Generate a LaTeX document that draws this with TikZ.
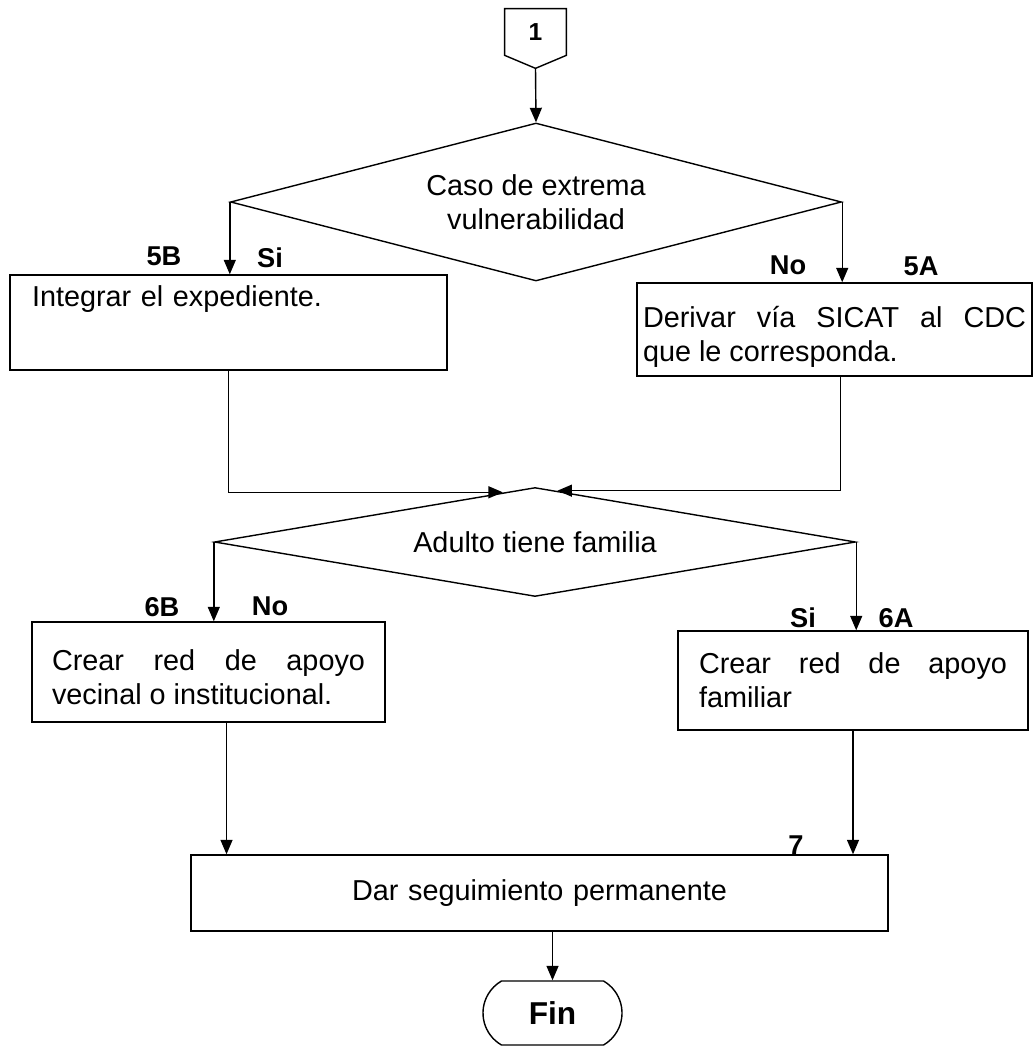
\documentclass[tikz,border=0pt]{standalone}
\usepackage{fontspec}
\setmainfont{Liberation Sans}
\usetikzlibrary{arrows.meta,calc,shapes.geometric,shapes.misc}
\newdimen\pxu \pxu=0.02cm
\begin{document}
\begin{tikzpicture}[x=0.02cm,y=-0.02cm,
  every node/.style={font=\fontsize{16.4}{19.3}\selectfont},
  wire/.style={draw,line width=0.8pt},
  flow/.style={draw,line width=0.8pt,-{Triangle[length=2.9mm,width=2.4mm]}},
  proc/.style={draw,line width=0.8pt,rectangle,inner ysep=0pt},
  decision/.style={draw,line width=0.8pt,diamond,inner sep=0pt,align=center},
  tag/.style={font=\fontsize{15.5}{18}\selectfont\bfseries,inner sep=0pt}]
\useasboundingbox (0,0) rectangle (1035,1047);

% off-page connector
\node[font=\fontsize{14}{16}\selectfont\bfseries, minimum width=61\pxu,
      minimum height=46\pxu, inner sep=0pt] (c1) at (535.5,32) {1};
\draw[wire] (c1.north west) -- (c1.north east) -- (c1.south east)
  -- ($(c1.south)+(0,13)$) coordinate (c1tip) -- (c1.south west) -- cycle;

% decisions
\node[decision, minimum width=611\pxu, minimum height=158\pxu, shape aspect=3.87]
  (d1) at (536,202) {Caso de extrema\\vulnerabilidad};
\node[decision, minimum width=641\pxu, minimum height=109\pxu, shape aspect=5.88]
  (d2) at (535,542) {Adulto tiene familia};

% process boxes
\node[proc, text width=393\pxu, inner xsep=22\pxu, minimum height=95\pxu, align=left,
      text height=21\pxu, text depth=52\pxu]
  (b5B) at (228.5,322.5) {Integrar el expediente.};
\node[proc, text width=383\pxu, inner xsep=6\pxu, minimum height=93\pxu, align=justify]
  (b5A) at (834.5,329.5) {\rule{0pt}{36\pxu}Derivar vía SICAT al CDC\linebreak que le corresponda.};
\node[proc, text width=313\pxu, inner xsep=20\pxu, minimum height=100\pxu, align=justify]
  (b6B) at (208.5,672) {\rule{0pt}{31\pxu}Crear red de apoyo\linebreak vecinal o institucional.};
\node[proc, text width=308\pxu, inner xsep=21\pxu, minimum height=99\pxu, align=justify]
  (b6A) at (853,680.5) {Crear red de apoyo\linebreak familiar};
\node[proc, text width=677\pxu, inner xsep=10\pxu, minimum height=76\pxu, align=center]
  (b7) at (539.5,893) {Dar seguimiento permanente};

% terminator
\node[draw, line width=0.8pt, rounded rectangle, rounded rectangle arc length=120,
      minimum width=139\pxu, minimum height=64\pxu, inner sep=0pt,
      font=\fontsize{18}{20}\selectfont\bfseries] (fin) at (552.5,1013) {Fin};

% step numbers and branch labels
\node[tag] (l5B) at (164,256) {5B};
\node[tag] (lsi1) at (270,258) {Si};
\node[tag] (lno1) at (788,265) {No};
\node[tag] (l5A) at (921,266) {5A};
\node[tag] (l6B) at (162,607) {6B};
\node[tag] (lno2) at (270,606) {No};
\node[tag] (lsi2) at (803,618) {Si};
\node[tag] (l6A) at (896,618) {6A};
\node[tag] (l7) at (796,845) {7};

% connectors
\draw[flow] (c1tip) -- (d1.north);
\draw[flow] (d1.west) -- (d1.west |- b5B.north);
\draw[flow] (d1.east) -- (d1.east |- b5A.north);
\coordinate (m1) at ($(d2.north)!0.1!(d2.west)$);
\coordinate (m2) at ($(d2.north)!0.07!(d2.east)$);
\coordinate (o5A) at ($(b5A.south)+(6,0)$);
\draw[flow] (b5B.south) |- (m1);
\draw[flow] (o5A) |- (m2);
\draw[flow] (d2.west) -- (d2.west |- b6B.north);
\draw[flow] (d2.east) -- (d2.east |- b6A.north);
\coordinate (o6B) at ($(b6B.south)+(18,0)$);
\draw[flow] (o6B) -- (o6B |- b7.north);
\draw[flow] (b6A.south) -- (b6A.south |- b7.north);
\draw[flow] (b7.south -| fin.north) -- (fin.north);
\end{tikzpicture}
\end{document}
